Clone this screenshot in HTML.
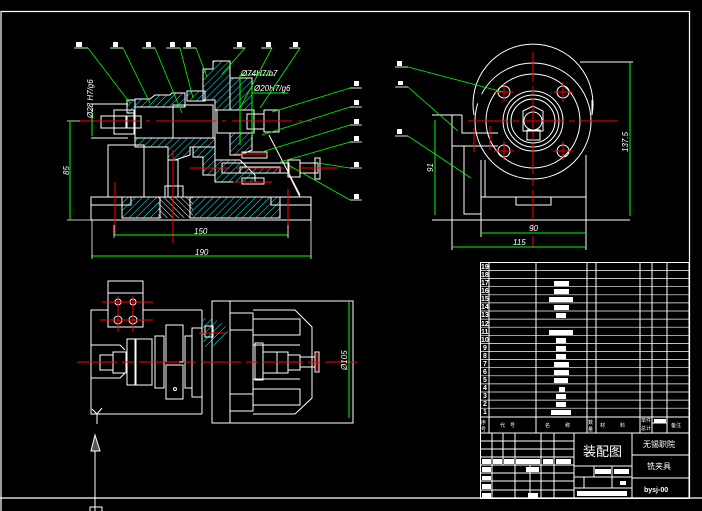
<!DOCTYPE html>
<html><head><meta charset="utf-8"><style>
html,body{margin:0;padding:0;background:#000;width:702px;height:511px;overflow:hidden}
svg{display:block}
text{font-family:"Liberation Sans","Noto Sans CJK SC",sans-serif}
</style></head><body>
<svg width="702" height="511" viewBox="0 0 702 511" xmlns="http://www.w3.org/2000/svg">
<defs>
<pattern id="h" width="5" height="5" patternUnits="userSpaceOnUse" patternTransform="rotate(45)">
<line x1="0" y1="0" x2="0" y2="5" stroke="#0ff" stroke-width="1"/></pattern>
<pattern id="hw" width="4" height="4" patternUnits="userSpaceOnUse" patternTransform="rotate(-45)">
<line x1="0" y1="0" x2="0" y2="4" stroke="#fff" stroke-width="1"/></pattern>
</defs>
<rect width="702" height="511" fill="#000"/>
<g stroke="#fff" stroke-width="1.2" fill="none">
<polyline points="1,511 1,11.5 689.5,11.5 689.5,498"/>
<line x1="0" y1="498" x2="702" y2="498"/>
</g>

<!-- ===== FRONT SECTION VIEW ===== -->
<g fill="url(#h)" stroke="#fff" stroke-width="1">
<polygon points="135,99 150,99 155,95 170,95 172,93 185,93 185,107 135,107"/>
<polygon points="127,100 135,100 135,113 127,113"/>
<polygon points="135,138 215,138 215,147 190,147 190,155 175,160 168,160 168,147 135,147"/>
<polygon points="203,69 213,69 213,61 230,61 230,110 215,110 215,175 203,175 203,157 193,157 193,147 215,147 215,100 203,100"/>
<polygon points="230,78 252,78 252,110 230,110"/>
<polygon points="230,133 252,133 252,150 240,155 230,155"/>
<polygon points="215,160 240,160 255,175 255,182 215,182"/>
<polygon points="187,91 205,91 205,101 187,101"/>
<polygon points="122,197 160,197 160,218 122,218"/>
<polygon points="190,197 280,197 280,218 190,218"/>
<polygon points="240,167 280,167 280,173 240,173"/>
</g>
<rect x="158" y="197" width="35" height="21" fill="url(#hw)"/>
<g stroke="#fff" stroke-width="1" fill="none">
<rect x="91" y="197" width="220" height="23"/>
<rect x="108" y="145" width="36" height="52"/>
<rect x="135" y="107" width="38" height="31"/>
<rect x="173" y="105" width="40" height="33"/>
<rect x="101" y="116" width="25" height="12"/>
<rect x="114" y="110" width="20" height="24"/>
<rect x="127" y="116" width="14" height="12"/>
<rect x="168" y="160" width="10" height="37"/>
<rect x="165" y="186" width="18" height="11"/>
<rect x="217" y="110" width="37" height="23"/>
<rect x="247" y="114" width="17" height="15"/>
<rect x="264" y="110" width="15" height="22"/>
<rect x="222" y="163" width="67" height="10"/>
<rect x="288" y="160" width="12" height="17"/>
<rect x="300" y="163" width="18" height="10"/>
<rect x="315" y="158" width="5" height="21"/>
<rect x="242" y="152" width="25" height="6"/>
<rect x="242" y="178" width="22" height="6"/>
<line x1="91" y1="104" x2="128" y2="104"/>
<line x1="91" y1="138" x2="128" y2="138"/>
<rect x="271" y="197" width="40" height="8"/>
<rect x="91" y="197" width="40" height="8"/>
<line x1="269" y1="135" x2="300" y2="195"/>
<line x1="289" y1="175" x2="300" y2="197"/>
</g>
<g stroke="#f00" stroke-width="1">
<line x1="80" y1="121" x2="312" y2="121" stroke-dasharray="60,6,4,6"/>
<line x1="190" y1="168" x2="338" y2="168" stroke-dasharray="40,5,4,5"/>
<line x1="233" y1="154" x2="268" y2="154"/>
<line x1="233" y1="182" x2="272" y2="182"/>
<line x1="173" y1="150" x2="173" y2="243"/>
<line x1="115" y1="182" x2="115" y2="235"/>
<line x1="288" y1="189" x2="288" y2="238"/>
</g>
<g stroke="#0f0" stroke-width="1" fill="#0f0">
<line x1="70" y1="122" x2="70" y2="220"/>
<line x1="92" y1="106" x2="92" y2="136"/>
<line x1="114" y1="235" x2="288" y2="235"/>
<line x1="92" y1="256" x2="311" y2="256"/>
<line x1="240" y1="75" x2="275" y2="75"/>
<line x1="252" y1="93" x2="288" y2="93"/>
<line x1="240" y1="75" x2="240" y2="145"/>
<line x1="252" y1="87" x2="252" y2="135"/>
</g>
<g stroke="#fff" stroke-width="0.8">
<line x1="67" y1="121" x2="80" y2="121"/>
<line x1="67" y1="220" x2="92" y2="220"/>
<line x1="114" y1="225" x2="114" y2="238"/>
<line x1="288" y1="225" x2="288" y2="238"/>
<line x1="92" y1="220" x2="92" y2="259"/>
<line x1="311" y1="220" x2="311" y2="259"/>
</g>
<g fill="#fff" font-size="8" font-style="italic">
<text x="194" y="234">150</text>
<text x="195" y="255">190</text>
<text x="241" y="76">Ø74H7/h7</text>
<text x="254" y="91">Ø20H7/g6</text>
<text transform="translate(69,175) rotate(-90)">85</text>
<text transform="translate(93,118) rotate(-90)">Ø28 H7/g6</text>
</g>
<g stroke="#0f0" stroke-width="0.8" fill="none">
<polyline points="75,48 88,48 130,103"/>
<polyline points="112,48 123,48 150,103"/>
<polyline points="144,48 155,48 182,113"/>
<polyline points="168,48 180,48 193,98"/>
<polyline points="184,48 196,48 207,77"/>
<polyline points="234,48 245,48 222,74"/>
<polyline points="262,48 272,48 240,108"/>
<polyline points="290,48 300,48 260,108"/>
<polyline points="360,88 350,88 272,112"/>
<polyline points="360,107 350,107 262,135"/>
<polyline points="360,125 350,125 262,152"/>
<polyline points="360,142 350,142 280,162"/>
<polyline points="360,168 350,168 318,163"/>
<polyline points="360,200 350,200 290,166"/>
</g>
<g fill="#fff">
<rect x="76" y="42" width="6" height="5"/><rect x="113" y="42" width="5" height="5"/>
<rect x="146" y="42" width="5" height="5"/><rect x="170" y="42" width="5" height="5"/>
<rect x="186" y="42" width="5" height="5"/><rect x="237" y="42" width="5" height="5"/>
<rect x="266" y="42" width="5" height="5"/><rect x="293" y="42" width="5" height="5"/>
<rect x="354" y="81" width="5" height="5"/><rect x="354" y="100" width="5" height="5"/>
<rect x="354" y="119" width="5" height="5"/><rect x="354" y="136" width="5" height="5"/>
<rect x="354" y="162" width="5" height="5"/><rect x="354" y="194" width="5" height="5"/>
</g>
<g stroke="#fff" stroke-width="0.8">
<line x1="74" y1="48" x2="88" y2="48"/><line x1="110" y1="48" x2="123" y2="48"/>
<line x1="142" y1="48" x2="155" y2="48"/><line x1="166" y1="48" x2="180" y2="48"/>
<line x1="183" y1="48" x2="196" y2="48"/><line x1="233" y1="48" x2="245" y2="48"/>
<line x1="261" y1="48" x2="272" y2="48"/><line x1="289" y1="48" x2="300" y2="48"/>
<line x1="350" y1="88" x2="362" y2="88"/><line x1="350" y1="107" x2="362" y2="107"/>
<line x1="350" y1="125" x2="362" y2="125"/><line x1="350" y1="142" x2="362" y2="142"/>
<line x1="350" y1="168" x2="362" y2="168"/><line x1="350" y1="200" x2="362" y2="200"/>
</g>

<!-- ===== SIDE VIEW ===== -->
<g stroke="#fff" stroke-width="1" fill="none">
<path d="M 474,115 A 60 60 0 1 1 592,115 L 592,100"/>
<circle cx="533" cy="121" r="47"/>
<circle cx="533" cy="121" r="58" stroke-dasharray="200,10"/>
<circle cx="533" cy="121" r="30"/>
<circle cx="533" cy="121" r="26"/>
<circle cx="533" cy="121" r="22"/>
<circle cx="533" cy="121" r="9"/>
<polygon points="523,111 533,106 543,111 543,131 523,131"/>
<rect x="527" y="130" width="13" height="10"/>
<circle cx="504" cy="92" r="6"/><circle cx="563" cy="92" r="6"/>
<circle cx="504" cy="151" r="6"/><circle cx="563" cy="151" r="6"/>
<rect x="481" y="197" width="105" height="23"/>
<rect x="516" y="197" width="35" height="8"/>
<line x1="432" y1="220" x2="630" y2="220"/>
<line x1="432" y1="115" x2="462" y2="115"/>
<polyline points="452,115 452,250"/>
<polyline points="462,115 462,133 498,133"/>
<polyline points="452,146 498,146"/>
<polyline points="464,146 464,214 481,214"/>
<line x1="481" y1="160" x2="481" y2="197"/>
<line x1="485" y1="160" x2="485" y2="197"/>
<line x1="586" y1="155" x2="586" y2="250"/>
<line x1="481" y1="220" x2="481" y2="237"/>
<line x1="580" y1="62" x2="633" y2="62"/>
</g>
<g stroke="#f00" stroke-width="1">
<line x1="533" y1="52" x2="533" y2="248" stroke-dasharray="30,4,8,4"/>
<line x1="468" y1="121" x2="618" y2="121" stroke-dasharray="40,5,6,5"/>
<line x1="494" y1="92" x2="514" y2="92"/><line x1="504" y1="84" x2="504" y2="102"/>
<line x1="553" y1="92" x2="573" y2="92"/><line x1="563" y1="82" x2="563" y2="102"/>
<line x1="494" y1="151" x2="514" y2="151"/><line x1="504" y1="141" x2="504" y2="160"/>
<line x1="553" y1="151" x2="573" y2="151"/><line x1="563" y1="141" x2="563" y2="160"/>
<line x1="474" y1="128" x2="474" y2="152"/><line x1="490" y1="126" x2="490" y2="150"/>
</g>
<g stroke="#0f0" stroke-width="1">
<line x1="435" y1="120" x2="435" y2="215"/>
<line x1="630" y1="62" x2="630" y2="216"/>
<line x1="482" y1="233" x2="586" y2="233"/>
<line x1="453" y1="247" x2="586" y2="247"/>
</g>
<g stroke="#0f0" stroke-width="0.8" fill="none">
<polyline points="396,67 408,67 503,92"/>
<polyline points="396,87 408,87 458,131"/>
<polyline points="396,136 408,136 471,178"/>
</g>
<g stroke="#fff" stroke-width="0.8"><line x1="395" y1="67" x2="408" y2="67"/><line x1="395" y1="87" x2="408" y2="87"/><line x1="395" y1="136" x2="408" y2="136"/></g>
<g fill="#fff"><rect x="397" y="61" width="5" height="5"/><rect x="398" y="81" width="5" height="4"/><rect x="397" y="129" width="5" height="5"/></g>
<g fill="#fff" font-size="8" font-style="italic">
<text x="529" y="231">90</text><text x="513" y="245">115</text>
<text transform="translate(433,172) rotate(-90)">91</text>
<text transform="translate(628,152) rotate(-90)">137.5</text>
</g>

<!-- ===== TOP VIEW ===== -->
<path d="M 203,318 A 25 15 0 0 1 228,332 A 25 15 0 0 1 203,347 Z" fill="url(#h)"/>
<g stroke="#fff" stroke-width="1" fill="none">
<rect x="108" y="281" width="35" height="46"/>
<line x1="108" y1="293" x2="143" y2="293"/>
<polyline points="108,310 91,310 91,414 202,414"/>
<line x1="143" y1="310" x2="202" y2="310"/>
<line x1="202" y1="310" x2="202" y2="414"/>
<polyline points="91,345 120,345 125,350"/>
<polyline points="91,378 120,378 125,373"/>
<rect x="212" y="301" width="141" height="122"/>
<line x1="230" y1="301" x2="230" y2="423"/>
<rect x="230" y="313" width="23" height="98"/>
<line x1="230" y1="330" x2="253" y2="330"/>
<line x1="230" y1="394" x2="253" y2="394"/>
<polyline points="253,310 295,310 312,327 312,398 295,414 253,414"/>
<rect x="253" y="319" width="47" height="16"/>
<rect x="253" y="389" width="47" height="16"/>
<polyline points="253,345 300,345"/><polyline points="253,379 300,379"/>
<rect x="100" y="355" width="13" height="15"/>
<rect x="113" y="352" width="13" height="21"/>
<rect x="127" y="339" width="8" height="46"/>
<rect x="136" y="339" width="16" height="46"/>
<rect x="155" y="336" width="9" height="52"/>
<rect x="166" y="325" width="17" height="37"/>
<rect x="166" y="365" width="17" height="34"/>
<rect x="185" y="336" width="7" height="52"/>
<rect x="192" y="328" width="10" height="69"/>
<rect x="205" y="326" width="8" height="11"/>
<rect x="255" y="343" width="8" height="37"/>
<rect x="263" y="352" width="14" height="21"/>
<rect x="277" y="352" width="11" height="21"/>
<rect x="288" y="355" width="12" height="15"/>
<rect x="300" y="357" width="15" height="10"/>
<rect x="315" y="352" width="4" height="20"/>
<circle cx="175" cy="389" r="1.5"/>
<circle cx="118" cy="302" r="3"/><circle cx="133" cy="302" r="3"/>
<circle cx="118" cy="320" r="4"/><circle cx="133" cy="320" r="4"/>
<line x1="349" y1="301" x2="353" y2="301"/><line x1="349" y1="423" x2="353" y2="423"/>
<polyline points="92,409 97,414 102,408"/>
<line x1="97" y1="414" x2="97" y2="424"/>
<line x1="95" y1="436" x2="95" y2="511"/>
<rect x="90" y="507" width="12" height="6"/>
</g>
<polygon points="95,435 91,451 100,451" fill="#555" stroke="#fff"/>
<g stroke="#f00" stroke-width="1">
<line x1="77" y1="362" x2="357" y2="362" stroke-dasharray="40,5,12,5"/>
<line x1="102" y1="302" x2="153" y2="302"/><line x1="100" y1="320" x2="153" y2="320"/>
<line x1="118" y1="296" x2="118" y2="332"/><line x1="133" y1="296" x2="133" y2="332"/>
<line x1="199" y1="333" x2="227" y2="333"/>
<line x1="317" y1="352" x2="317" y2="372"/>
</g>
<line x1="349" y1="301" x2="349" y2="418" stroke="#0f0" stroke-width="1"/>
<text transform="translate(347,370) rotate(-90)" fill="#fff" font-size="8" font-style="italic">Ø105</text>

<!-- ===== PARTS LIST ===== -->
<g stroke="#fff" stroke-width="1" fill="none">
<rect x="480.5" y="262.5" width="208.5" height="236"/>
<line x1="489" y1="262" x2="489" y2="433"/>
<line x1="536" y1="262" x2="536" y2="433"/>
<line x1="587" y1="262" x2="587" y2="433"/>
<line x1="596" y1="262" x2="596" y2="433"/>
<line x1="640" y1="262" x2="640" y2="433"/>
<line x1="652" y1="262" x2="652" y2="433"/>
<line x1="667" y1="262" x2="667" y2="433"/>
<line x1="480" y1="417" x2="689" y2="417"/>
<line x1="480" y1="433" x2="689" y2="433"/>
<line x1="574" y1="433" x2="574" y2="498"/>
<line x1="632" y1="433" x2="632" y2="498"/>
<line x1="632" y1="455" x2="689" y2="455"/>
<line x1="632" y1="478" x2="689" y2="478"/>
<line x1="574" y1="466" x2="632" y2="466"/>
<line x1="574" y1="488" x2="632" y2="488"/>
<line x1="480" y1="441" x2="574" y2="441"/>
<line x1="480" y1="449" x2="574" y2="449"/>
<line x1="480" y1="457" x2="574" y2="457"/>
<line x1="480" y1="465" x2="574" y2="465"/>
<line x1="480" y1="473" x2="574" y2="473"/>
<line x1="480" y1="481" x2="574" y2="481"/>
<line x1="480" y1="490" x2="574" y2="490"/>
<line x1="492" y1="433" x2="492" y2="498"/>
<line x1="503" y1="433" x2="503" y2="465"/>
<line x1="515" y1="433" x2="515" y2="498"/>
<line x1="541" y1="433" x2="541" y2="498"/>
<line x1="554" y1="433" x2="554" y2="498"/>
<line x1="530" y1="465" x2="530" y2="498"/>
<line x1="594" y1="466" x2="594" y2="477"/>
<line x1="584" y1="477" x2="584" y2="488"/>
<line x1="574" y1="477" x2="632" y2="477"/>
<line x1="612" y1="466" x2="612" y2="488"/>
<line x1="652" y1="423" x2="667" y2="423"/>
</g>
<g stroke="#fff" stroke-width="0.7">
<line x1="480" y1="270.5" x2="689" y2="270.5"/><line x1="480" y1="278.6" x2="689" y2="278.6"/>
<line x1="480" y1="286.7" x2="689" y2="286.7"/><line x1="480" y1="294.8" x2="689" y2="294.8"/>
<line x1="480" y1="302.9" x2="689" y2="302.9"/><line x1="480" y1="311" x2="689" y2="311"/>
<line x1="480" y1="319.1" x2="689" y2="319.1"/><line x1="480" y1="327.2" x2="689" y2="327.2"/>
<line x1="480" y1="335.3" x2="689" y2="335.3"/><line x1="480" y1="343.4" x2="689" y2="343.4"/>
<line x1="480" y1="351.5" x2="689" y2="351.5"/><line x1="480" y1="359.6" x2="689" y2="359.6"/>
<line x1="480" y1="367.7" x2="689" y2="367.7"/><line x1="480" y1="375.8" x2="689" y2="375.8"/>
<line x1="480" y1="383.9" x2="689" y2="383.9"/><line x1="480" y1="392" x2="689" y2="392"/>
<line x1="480" y1="400.1" x2="689" y2="400.1"/><line x1="480" y1="408.2" x2="689" y2="408.2"/>
</g>
<g fill="#fff">
<rect x="554" y="281" width="15" height="5"/><rect x="554" y="289" width="15" height="5"/>
<rect x="549" y="297" width="24" height="5"/><rect x="554" y="305" width="15" height="5"/>
<rect x="556" y="313" width="10" height="5"/><rect x="549" y="330" width="24" height="5"/>
<rect x="556" y="338" width="10" height="5"/><rect x="556" y="346" width="10" height="5"/>
<rect x="556" y="354" width="10" height="5"/><rect x="554" y="362" width="15" height="5"/>
<rect x="554" y="370" width="15" height="5"/><rect x="554" y="378" width="14" height="5"/>
<rect x="559" y="387" width="6" height="5"/><rect x="556" y="394" width="10" height="5"/>
<rect x="556" y="402" width="10" height="5"/><rect x="551" y="410" width="20" height="5"/>
<rect x="654" y="419" width="12" height="4"/>
<rect x="482" y="459" width="9" height="5"/><rect x="493" y="459" width="9" height="5"/>
<rect x="504" y="459" width="10" height="5"/><rect x="516" y="459" width="24" height="5"/>
<rect x="543" y="459" width="10" height="5"/><rect x="556" y="459" width="15" height="5"/>
<rect x="482" y="467" width="9" height="5"/><rect x="482" y="476" width="9" height="4"/>
<rect x="482" y="484" width="9" height="5"/><rect x="482" y="493" width="9" height="5"/>
<rect x="526" y="467" width="13" height="5"/><rect x="528" y="493" width="10" height="5"/>
<rect x="595" y="469" width="16" height="5"/><rect x="614" y="469" width="15" height="5"/>
<rect x="620" y="481" width="6" height="4"/><rect x="577" y="491" width="50" height="5"/>
</g>
<g fill="#fff" font-size="7" font-weight="bold">
<text x="481" y="269">19</text><text x="481" y="277">18</text><text x="481" y="285">17</text>
<text x="481" y="293">16</text><text x="481" y="301">15</text><text x="481" y="309">14</text>
<text x="481" y="317">13</text><text x="481" y="326">12</text><text x="481" y="334">11</text>
<text x="481" y="342">10</text><text x="483" y="350">9</text><text x="483" y="358">8</text>
<text x="483" y="366">7</text><text x="483" y="374">6</text><text x="483" y="382">5</text>
<text x="483" y="390">4</text><text x="483" y="398">3</text><text x="483" y="406">2</text>
<text x="483" y="414">1</text>
</g>
<g fill="#fff" font-size="5">
<text x="481" y="424">序</text><text x="481" y="431">号</text>
<text x="500" y="427">代　号</text><text x="545" y="427">名　　　称</text>
<text x="588" y="424">数</text><text x="588" y="431">量</text>
<text x="600" y="427">材　　　料</text>
<text x="641" y="422">单件</text><text x="641" y="430">总计</text>
<text x="671" y="427">备注</text>
</g>
<text x="583" y="456" fill="#fff" font-size="13">装配图</text>
<text x="643" y="447" fill="#fff" font-size="8">无锡职院</text>
<text x="647" y="469" fill="#fff" font-size="8">铣夹具</text>
<text x="644" y="492" fill="#fff" font-size="7" font-weight="bold">bysj-00</text>
</svg>
</body></html>
